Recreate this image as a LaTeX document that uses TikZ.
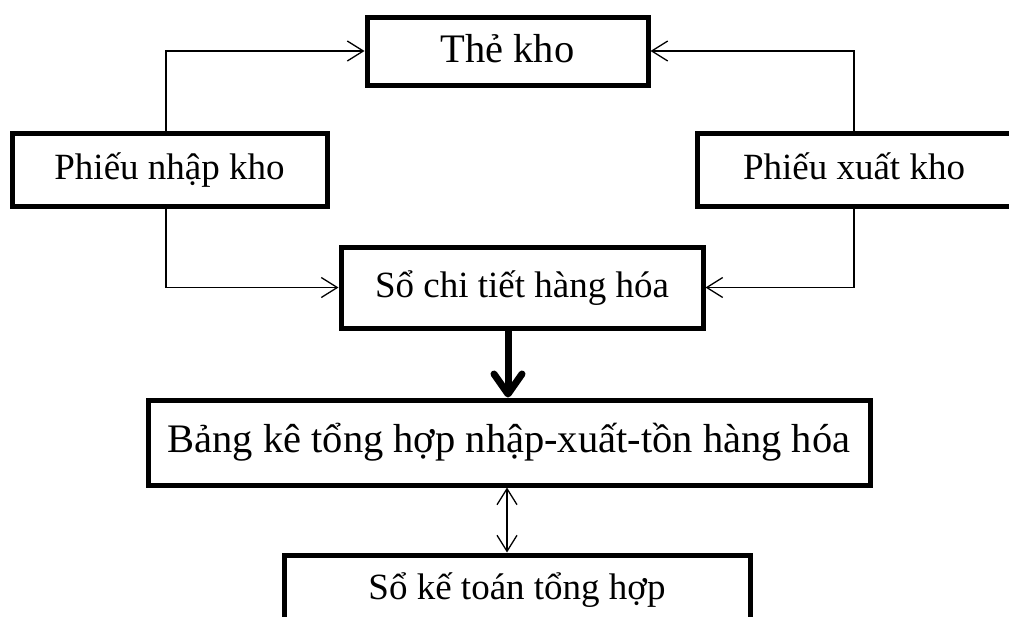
\documentclass[tikz,border=0pt]{standalone}
\usepackage{fontspec}
\setmainfont{Liberation Serif}
\usetikzlibrary{arrows.meta}
\begin{document}
\begin{tikzpicture}[x=1pt,y=-1pt,
  box/.style={draw,line width=5pt,rectangle,inner sep=0pt,
    text height=28pt,text depth=9pt,
    font=\fontsize{37}{40}\selectfont},
  bigtext/.style={font=\fontsize{40.5}{44}\selectfont},
  barb/.tip={Straight Barb[length=16pt,width=20pt,line width=1.3pt]},
  conn/.style={line width=1.3pt,-barb},
  both/.style={line width=1.3pt,barb-barb},
  heavy/.style={line width=7pt,
    -{Straight Barb[length=20pt,width=28pt,round]}}
]
% page frame; boxes at the edges are cut off
\clip (0,0) rectangle (1009,616);
\fill[white] (0,0) rectangle (1009,616);

% documents
\node[box,bigtext,text depth=5pt,minimum width=281pt,minimum height=68pt] (the) at (507.5,51) {Thẻ kho};
\node[box,minimum width=315pt,minimum height=73pt] (pnk) at (169.5,169.5) {Phiếu nhập kho};
\node[box,minimum width=314pt,minimum height=73pt] (pxk) at (854,169.5) {Phiếu xuất kho};
\node[box,minimum width=362pt,minimum height=81pt] (sct) at (522,287.5) {Sổ chi tiết hàng hóa};
\node[box,bigtext,minimum width=722pt,minimum height=85pt] (bk) at (509,442.5) {Bảng kê tổng hợp nhập-xuất-tồn hàng hóa};
\node[box,text depth=6pt,minimum width=466pt,minimum height=66pt] (skt) at (517,588) {Sổ kế toán tổng hợp};

% vertical guide lines for the connectors
\coordinate (lx) at (166,0);
\coordinate (mx) at (508,0);
\coordinate (dx) at (507,0);

% flows into the stock card and the detail ledger
\draw[conn] (pnk.north -| lx) |- (the.west);
\draw[conn] (pnk.south -| lx) |- (sct.west);
\draw[conn] (pxk.north) |- (the.east);
\draw[conn] (pxk.south) |- (sct.east);

% summary chain
\draw[heavy] (sct.south -| mx) -- (mx |- bk.north);
\draw[both] (bk.south -| dx) -- (dx |- skt.north);
\end{tikzpicture}
\end{document}
